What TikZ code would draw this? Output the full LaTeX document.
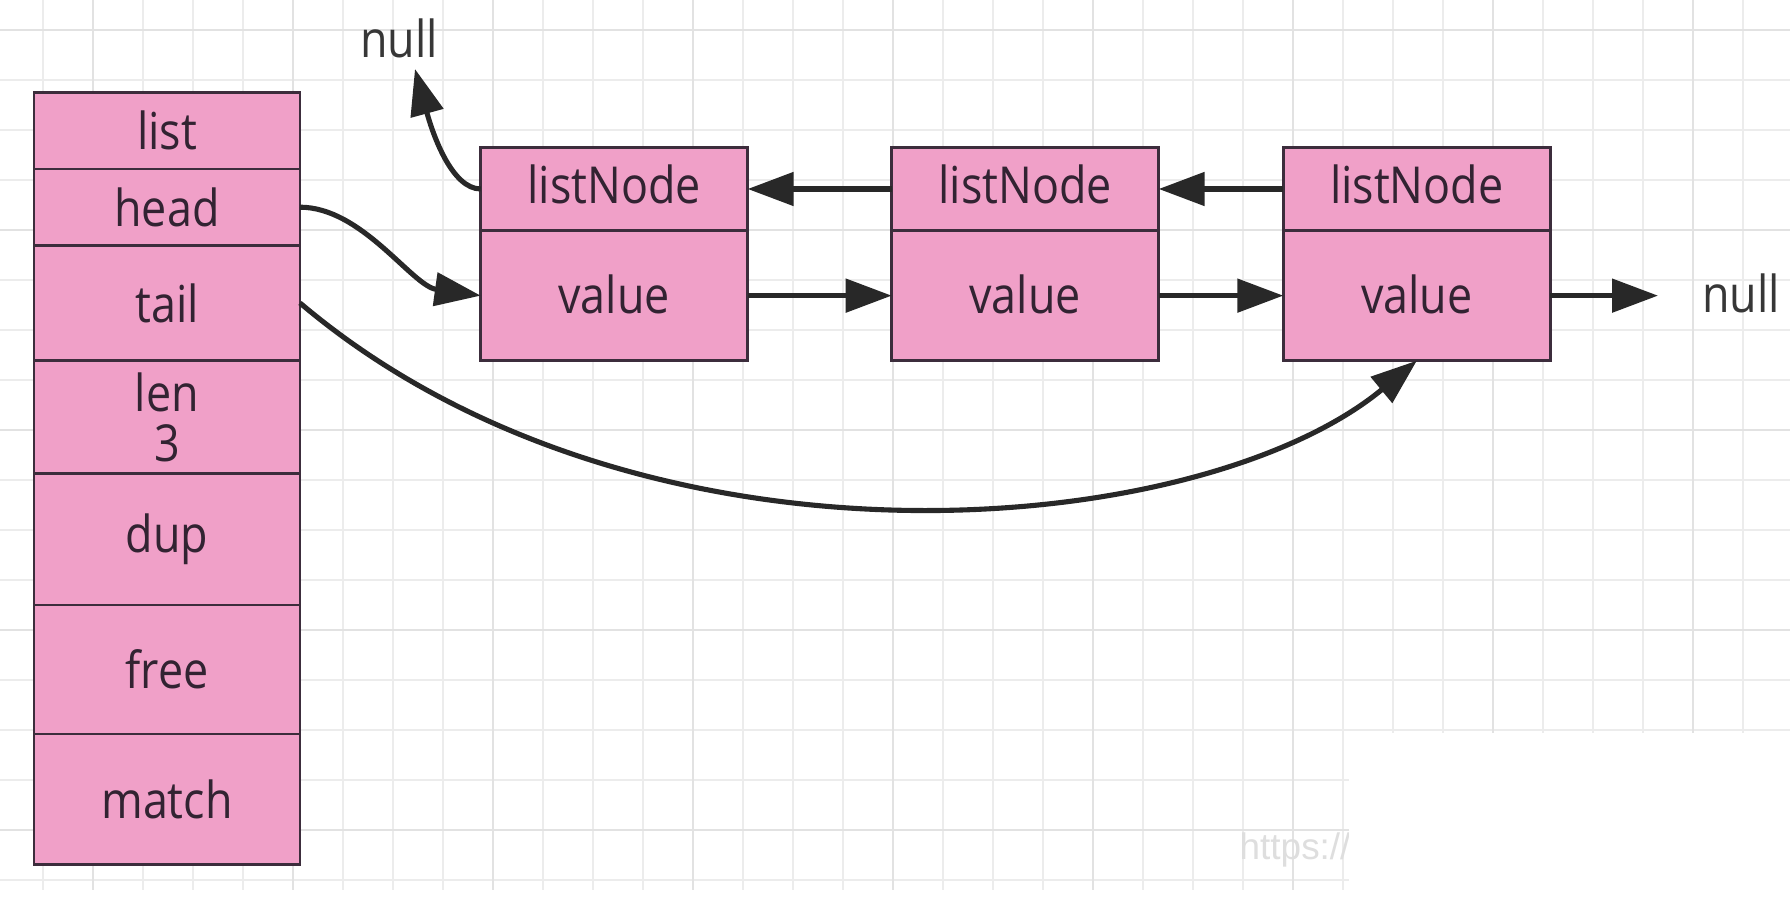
\documentclass[tikz,border=0pt]{standalone}
\usepackage{fontspec}
\setmainfont{Open Sans}[FakeStretch=0.88]
\newfontfamily\wmfont{Liberation Sans}
\usetikzlibrary{arrows.meta}
\definecolor{cellpink}{RGB}{240,160,200}
\definecolor{celledge}{RGB}{60,45,60}
\definecolor{celltxt}{RGB}{50,35,50}
\definecolor{arr}{RGB}{40,40,40}
\definecolor{nulltxt}{RGB}{55,55,55}
\definecolor{gminor}{RGB}{236,236,236}
\definecolor{gmajor}{RGB}{226,226,226}
\definecolor{wmcol}{RGB}{222,222,222}
\begin{document}
\begin{tikzpicture}[x=0.1mm,y=-0.1mm,
  cell/.style={draw=celledge, line width=0.8pt, fill=cellpink, inner sep=0pt, outer sep=0pt,
    minimum width=26.6mm, text=celltxt, font=\fontsize{14.5}{14.2}\selectfont, align=center},
  ncell/.style={cell, minimum width=26.7mm},
  link/.style={draw=arr, line width=1.45pt, -{Triangle[length=4.6mm,width=3.3mm]}},
  gminorline/.style={draw=gminor, line width=0.55pt},
  gmajorline/.style={draw=gmajor, line width=0.6pt},
  lbl/.style={text=nulltxt, font=\fontsize{14.5}{17}\selectfont, inner sep=0pt}]
\useasboundingbox (0,0) rectangle (1790,918);
\fill[white] (0,0) rectangle (1790,918);
% grid
\foreach \x in {43,93,...,1743} \draw[gminorline] (\x,0) -- (\x,890);
\foreach \y in {30,80,...,880} \draw[gminorline] (0,\y) -- (1790,\y);
\foreach \x in {93,293,...,1693} \draw[gmajorline] (\x,0) -- (\x,890);
\foreach \y in {30,230,...,830} \draw[gmajorline] (0,\y) -- (1790,\y);
% faint watermark, cut off
\node[anchor=west, text=wmcol, font=\wmfont\fontsize{10.5}{12}\selectfont, inner sep=0pt] (wm) at (1239,850) {https://c};
\fill[white] (1349,733) rectangle (1790,918);
% list struct
\node[cell, minimum height=7.65mm] (list) at (167,130.75) {list};
\node[cell, minimum height=7.64mm] (head) at (167,207.2) {head};
\node[cell, minimum height=11.53mm] (tail) at (167,303) {tail};
\node[cell, minimum height=11.31mm] (len) at (167,417.25) {len\\3};
\node[cell, minimum height=13.12mm] (dup) at (167,539.4) {dup};
\node[cell, minimum height=12.9mm] (free) at (167,669.5) {free};
\node[cell, minimum height=13.02mm] (match) at (167,799.1) {match};
% list nodes
\node[ncell, minimum height=8.33mm, text depth=0.9mm] (n1t) at (614.2,189) {listNode};
\node[ncell, minimum height=13.01mm, text depth=0.4mm] (n1v) at (614.2,295.65) {value};
\node[ncell, minimum height=8.33mm, text depth=0.9mm] (n2t) at (1025.2,189) {listNode};
\node[ncell, minimum height=13.01mm, text depth=0.4mm] (n2v) at (1025.2,295.65) {value};
\node[ncell, minimum height=8.33mm, text depth=0.9mm] (n3t) at (1416.8,189) {listNode};
\node[ncell, minimum height=13.01mm, text depth=0.4mm] (n3v) at (1416.8,295.65) {value};
% null labels
\node[lbl] (nullT) at (399,38) {null};
\node[lbl] (nullR) at (1741,293) {null};
\coordinate (tipT) at (415,69);
\coordinate (endR) at (1658,295.65);
% connectors
\draw[link] (n2t.west) -- (n1t.east);
\draw[link] (n3t.west) -- (n2t.east);
\draw[link] (n1v.east) -- (n2v.west);
\draw[link] (n2v.east) -- (n3v.west);
\draw[link] (n3v.east) -- (endR);
\draw[link] (head.east) .. controls (362,207.2) and (412,286) .. (n1v.west);
\draw[link] (tail.east) .. controls (639,590) and (1200,540) .. (n3v.south);
\draw[link] (n1t.west) .. controls (452,189) and (433,135) .. (tipT);
\end{tikzpicture}
\end{document}
